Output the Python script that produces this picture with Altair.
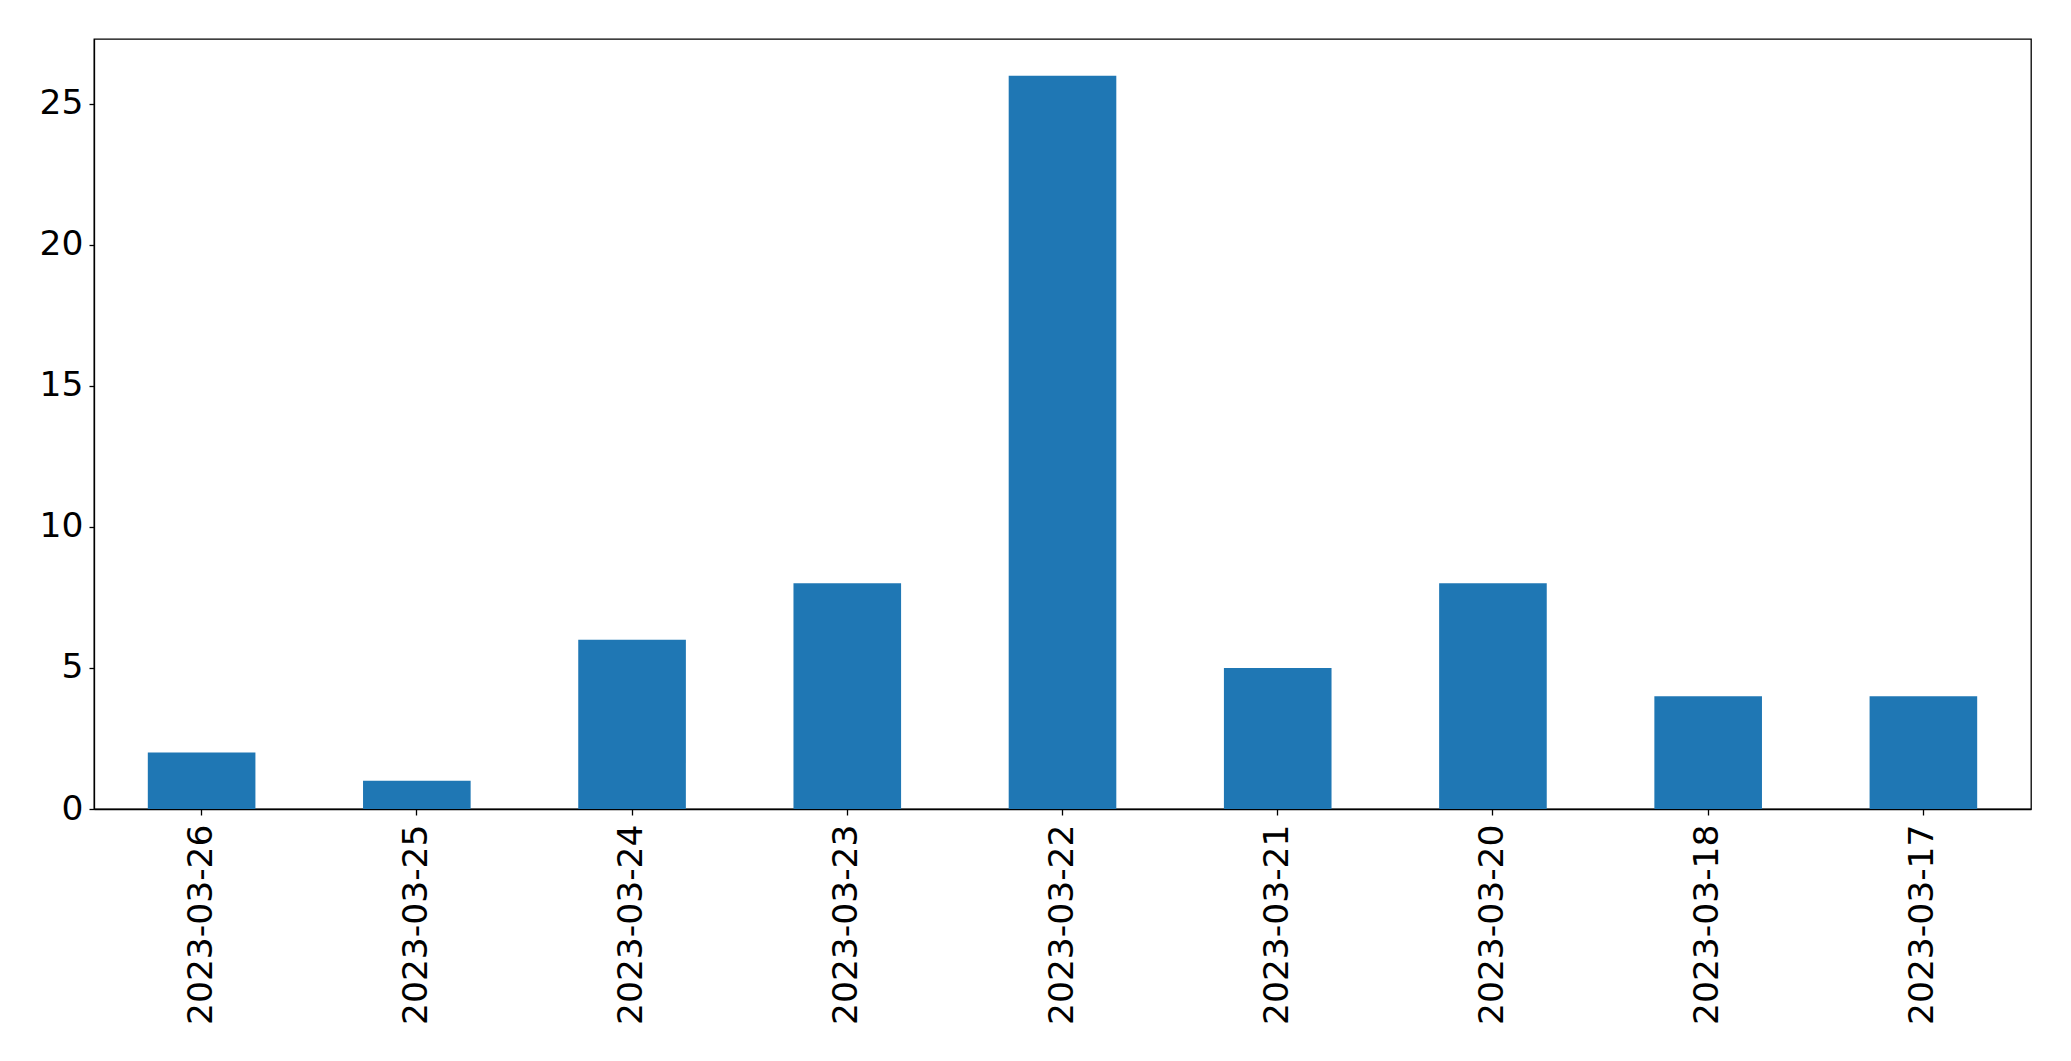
import altair as alt
import pandas as pd

dates = ["2023-03-26", "2023-03-25", "2023-03-24", "2023-03-23", "2023-03-22",
         "2023-03-21", "2023-03-20", "2023-03-18", "2023-03-17"]
counts = [2, 1, 6, 8, 26, 5, 8, 4, 4]
y_ticks = [0, 5, 10, 15, 20, 25]

df = pd.DataFrame({"date": dates, "count": counts})

FONT = "DejaVu Sans"

chart = alt.Chart(df).mark_bar(color="#1f77b4").encode(
    x=alt.X("date:N", sort=None, title=None,
            scale=alt.Scale(paddingInner=0.5, paddingOuter=0.25),
            axis=alt.Axis(labelAngle=270, labelFontSize=34.5, labelFont=FONT, labelLimit=0,
                          labelColor="black", tickColor="black", domainColor="black",
                          tickSize=6, labelPadding=9, domainWidth=1.3, tickWidth=1.3)),
    y=alt.Y("count:Q", title=None,
            scale=alt.Scale(domain=[0, 27.3], nice=False, zero=True),
            axis=alt.Axis(values=y_ticks, grid=False, labelFontSize=34.5, labelFont=FONT,
                          labelColor="black", tickColor="black", domainColor="black",
                          tickSize=5, labelPadding=6, domainWidth=1.3, tickWidth=1.3)),
).properties(
    width=1937, height=770,
    autosize=alt.AutoSizeParams(type="none"),
    padding={"left": 86, "top": 31, "right": 20, "bottom": 240},
).configure_view(
    stroke="black", strokeWidth=1.3
)

chart.save("out.html", embed_options={"renderer": "svg", "actions": False})
